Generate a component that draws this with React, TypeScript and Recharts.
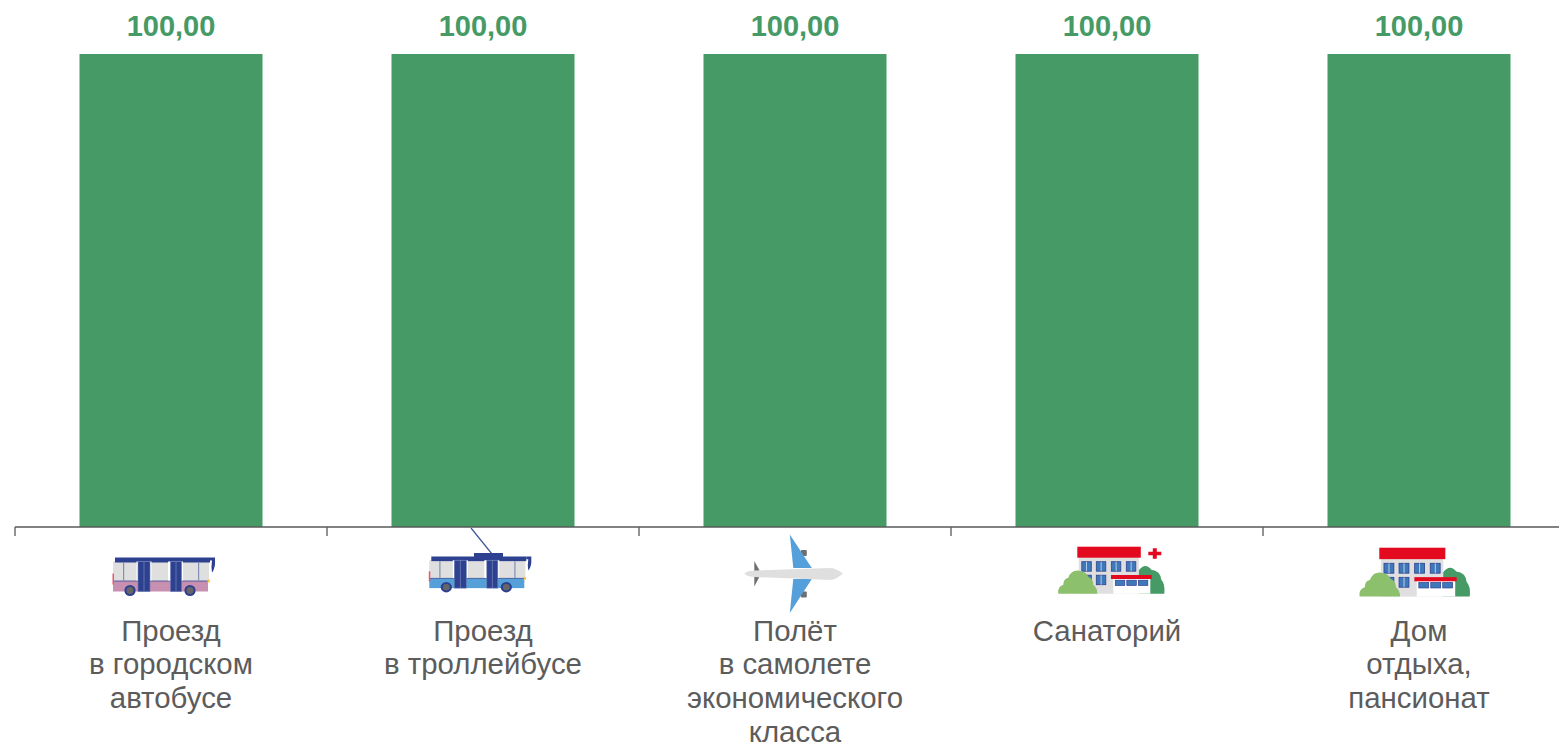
import { BarChart, Bar, XAxis, YAxis, LabelList } from 'recharts'

const categories = [
  'Проезд\nв городском\nавтобусе',
  'Проезд\nв троллейбусе',
  'Полёт\nв самолете\nэкономического\nкласса',
  'Санаторий',
  'Дом\nотдыха,\nпансионат',
]
const values = [100, 100, 100, 100, 100]
const icons = ['bus', 'trolley', 'plane', 'sanatorium', 'resort']

const chartData = categories.map((name, i) => ({ name, value: values[i], icon: icons[i] }))

const GREEN = '#459a66'
const TEXT = '#5c5c5c'
const AXIS = '#595959'
const NAVY = '#2e4190'
const GLASS = '#e0dfdf'

// local origin: top-left of the bus body
function BusShape({ lower }: { lower: string }) {
  return (
    <g>
      <rect x={0} y={4} width={96} height={20} fill={GLASS} />
      <rect x={2} y={0} width={95} height={5} fill={NAVY} />
      <rect x={0} y={23.5} width={95} height={10.5} fill={lower} />
      <rect x={0} y={23} width={95} height={1} fill={NAVY} opacity={0.75} />
      <rect x={10} y={5} width={1.2} height={18} fill="#7f8fb5" />
      <rect x={23.5} y={4} width={15} height={19} fill="#fff" />
      <rect x={55} y={4} width={15} height={19} fill="#fff" />
      <rect x={85} y={5} width={1.2} height={18} fill="#7f8fb5" />
      <rect x={25} y={4} width={12} height={30} fill={NAVY} stroke="#6c7db5" strokeWidth={0.6} />
      <rect x={30.6} y={4} width={0.8} height={30} fill="#6c7db5" />
      <rect x={57.5} y={4} width={11} height={30} fill={NAVY} stroke="#6c7db5" strokeWidth={0.6} />
      <rect x={62.6} y={4} width={0.8} height={30} fill="#6c7db5" />
      <path d="M97 0 H102 V7 Q101 13 99 15 Q98 9 99 3 H97 Z" fill={NAVY} />
      <rect x={-0.5} y={16} width={1.5} height={11} fill="#e8566a" />
      <rect x={94.5} y={22} width={2.2} height={3} fill="#f7c33c" />
      <circle cx={17} cy={33} r={5.6} fill={NAVY} />
      <circle cx={17} cy={33} r={3.4} fill="#666" />
      <circle cx={77} cy={33} r={5.6} fill={NAVY} />
      <circle cx={77} cy={33} r={3.4} fill="#666" />
    </g>
  )
}

function Plane() {
  return (
    <g>
      <rect x={56.5} y={23} width={6} height={6} rx={1} fill="#6f6f6f" />
      <rect x={56.5} y={64.5} width={6} height={6} rx={1} fill="#6f6f6f" />
      <path d="M45.5 7.5 L67.5 41 H49 Z" fill="#55a0db" />
      <path d="M49 52 H67.5 L45.5 86 Z" fill="#55a0db" />
      <path d="M10 34 L15 43 V50 L10 59.5 Z" fill="#6f6f6f" />
      <path d="M0 46.5 Q2 44 10 43.5 L86 41 Q91 41 98.5 46.5 Q92 52.5 86 53 L10 50 Q2 49.5 0 46.5 Z" fill={GLASS} />
    </g>
  )
}

// local origin: top-left of the red roof
function Building({ cross }: { cross: boolean }) {
  const upper = [4.5, 19, 34, 49]
  const annex = [38, 49.5, 61]
  const win = '#3e78bb'
  return (
    <g>
      <path d="M61 47 V24 Q68 15 74 23 Q83 24 84 33 Q88 37 87 47 Z" fill={GREEN} />
      <rect x={1.5} y={10} width={60} height={37} fill={GLASS} />
      <rect x={0} y={0} width={63.5} height={11} fill="#e30a20" />
      {upper.map(w => (
        <g key={w}>
          <rect x={w} y={15} width={9.5} height={9.5} fill={win} stroke="#2e4190" strokeWidth={0.8} />
          <rect x={w + 4.4} y={15} width={0.8} height={9.5} fill="#cfe0f2" />
        </g>
      ))}
      {upper.slice(0, 2).map(w => (
        <g key={w}>
          <rect x={w} y={28.5} width={9.5} height={9.5} fill={win} stroke="#2e4190" strokeWidth={0.8} />
          <rect x={w + 4.4} y={28.5} width={0.8} height={9.5} fill="#cfe0f2" />
        </g>
      ))}
      <path d="M-19 47 Q-20 40 -14 38 Q-14 32 -9 31 Q-6 23 2 24 Q9 25 11 30 Q16 32 16 38 Q20 41 20 47 Z" fill="#8cc06d" />
      <rect x={36} y={31.5} width={37} height={15.5} fill="#fff" />
      <rect x={33.7} y={28.3} width={40.7} height={4} fill="#e30a20" />
      {annex.map(w => (
        <rect key={w} x={w} y={33.5} width={9.5} height={5.2} fill={win} stroke="#2e4190" strokeWidth={0.7} />
      ))}
      {cross && (
        <path d="M75.5 1.5 H79.5 V5 H84 V8.5 H79.5 V12 H75.5 V8.5 H71 V5 H75.5 Z" fill="#e30a20" />
      )}
    </g>
  )
}

function Icon({ kind }: { kind: string }) {
  if (kind === 'bus')
    return <g transform="translate(-58 30.5)"><BusShape lower="#c78fb0" /></g>
  if (kind === 'trolley')
    return (
      <g>
        <line x1={-12} y1={1} x2={9} y2={27} stroke="#42569c" strokeWidth={1.2} />
        <rect x={-9} y={26} width={29} height={4} fill={NAVY} />
        <g transform="translate(-53.7 29.5) scale(1 0.93)"><BusShape lower="#55a0d8" /></g>
      </g>
    )
  if (kind === 'plane') return <g transform="translate(-50.7 0)"><Plane /></g>
  if (kind === 'sanatorium')
    return <g transform="translate(-29.7 19.7)"><Building cross /></g>
  return <g transform="translate(-39.7 20.7) scale(1.04)"><Building cross={false} /></g>
}

function CategoryTick({ x, y, payload, index }: any) {
  const lines = String(payload.value).split('\n')
  const top = y - 8
  return (
    <g>
      <line x1={x - 156} y1={top} x2={x - 156} y2={top + 9} stroke={AXIS} strokeWidth={1.3} />
      {index === categories.length - 1 && (
        <line x1={x + 156} y1={top} x2={x + 156} y2={top + 9} stroke={AXIS} strokeWidth={1.3} />
      )}
      <g transform={`translate(${x} ${top})`}>
        <Icon kind={icons[index]} />
      </g>
      <text
        x={x}
        y={top + 113.6}
        textAnchor="middle"
        fontSize={29.4}
        fontFamily="'Liberation Sans', Arial, sans-serif"
        fill={TEXT}
      >
        {lines.map((l, i) => (
          <tspan key={i} x={x} dy={i === 0 ? 0 : 33.7}>{l}</tspan>
        ))}
      </text>
    </g>
  )
}

export default function App() {
  return (
    <div style={{ position: 'absolute', left: 0, top: 0, width: 1559, height: 742, overflow: 'hidden', background: '#fff' }}>
      <BarChart
        width={1600}
        height={742}
        data={chartData}
        margin={{ left: 15, right: 25, top: 54, bottom: 0 }}
        barCategoryGap={64.5}
      >
        <XAxis
          dataKey="name"
          height={215}
          interval={0}
          tick={<CategoryTick />}
          tickLine={false}
          axisLine={{ stroke: AXIS, strokeWidth: 1.3 }}
        />
        <YAxis hide domain={[0, 100]} />
        <Bar dataKey="value" fill={GREEN} isAnimationActive={false}>
          <LabelList
            dataKey="value"
            position="top"
            offset={18}
            formatter={(v: number) => v.toFixed(2).replace('.', ',')}
            style={{ fontSize: 29, fontWeight: 700, fill: GREEN, fontFamily: "'Liberation Sans', Arial, sans-serif" }}
          />
        </Bar>
      </BarChart>
    </div>
  )
}
